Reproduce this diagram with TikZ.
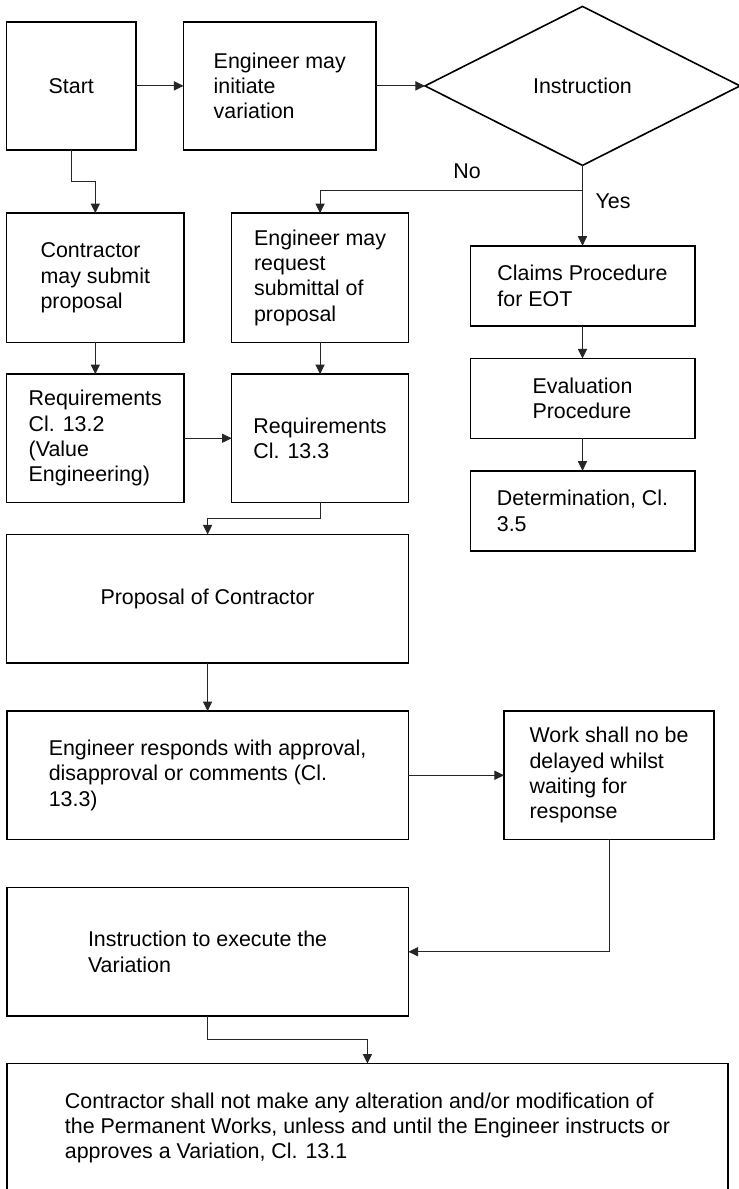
\documentclass[tikz,border=0pt]{standalone}
\usepackage{fontspec}
\setmainfont{Liberation Sans}
\usetikzlibrary{shapes,arrows,positioning,calc, arrows.meta}

\begin{document}
\begin{tikzpicture}[
    font=\fontsize{10.7}{12.65}\selectfont,
    >={Triangle[length=4.8pt,width=4.6pt]},
    stepbox/.style={rectangle, draw, line width=0.8pt, align=left, inner sep=2pt, outer sep=0pt},
    flow/.style={->, line width=0.5pt, draw=black!85}
]

    \useasboundingbox (0,0) rectangle (369.5pt,-594.5pt);

    	%-----Boxes-----
        % Start Box
        \node [stepbox, anchor=north west, minimum width=64.7pt, minimum height=64.2pt] (start) at (3.3pt,-10.85pt) {Start};

        % Engineer Initiates Box
        \node [stepbox, right=23.75pt of start, minimum width=96.25pt, minimum height=64.2pt] (initv) {%
            Engineer may \\
            initiate \\
            variation
        };

        % Instruction Decision
        \node [diamond, draw, line width=0.8pt, right=24.5pt of initv, minimum width=157.5pt, minimum height=79.5pt, inner sep=0pt, outer sep=0pt] (instr) {Instruction};

        % Contractor Submits Box
        \node [stepbox, below=31.5pt of start.south west, anchor=north west, minimum width=88.7pt, minimum height=64.65pt] (csub) {%
            Contractor \\
            may submit \\
            proposal
        };

        % Engineer Requests Box
        \node [stepbox, right=23.8pt of csub, minimum width=88.5pt, minimum height=64.65pt] (ereq) {%
            Engineer may \\
            request \\
            submittal of \\
            proposal
        };

        % Claims Box
        \node [stepbox, below=40.2pt of instr, minimum width=112.2pt, minimum height=40.15pt] (claims) {%
            Claims Procedure \\
            for EOT
        };

        % Evaluation Box
        \node [stepbox, below=16.15pt of claims, minimum width=112.2pt, minimum height=40pt] (evalp) {%
            Evaluation \\
            Procedure
        };

        % Determination Box
        \node [stepbox, below=16.2pt of evalp, minimum width=112.2pt, minimum height=40pt] (determ) {%
            Determination, Cl. \\
            3.5
        };

        % Requirements 13.2 Box
        \node [stepbox, below=15.85pt of csub, minimum width=88.7pt, minimum height=64.15pt] (req2) {%
            Requirements \\
            Cl. 13.2 \\
            (Value \\
            Engineering)
        };

        % Requirements 13.3 Box
        \node [stepbox, right=23.8pt of req2, minimum width=88.5pt, minimum height=64.15pt] (req3) {%
            Requirements \\
            Cl. 13.3
        };

        % Proposal Box
        \node [stepbox, below=16pt of req2.south west, anchor=north west, minimum width=201pt, minimum height=64.2pt] (propc) {Proposal of Contractor};

        % Engineer Responds Box
        \node [stepbox, below=24.15pt of propc, minimum width=200.85pt, minimum height=64.15pt] (eresp) {%
            Engineer responds with approval, \\
            disapproval or comments (Cl. \\
            13.3)
        };

        % No Delay Box
        \node [stepbox, right=47.8pt of eresp, minimum width=105pt, minimum height=64.15pt] (nodelay) {%
            Work shall no be \\
            delayed whilst \\
            waiting for \\
            response
        };

        % Execute Variation Box
        \node [stepbox, below=24pt of eresp, minimum width=200.85pt, minimum height=64.35pt] (execv) {%
            Instruction to execute the \\
            Variation
        };

        % No Alteration Box
        \node [stepbox, below=23.75pt of execv.south west, anchor=north west, minimum width=360.7pt, minimum height=64.3pt] (noalter) {%
            Contractor shall not make any alteration and/or modification of \\
            the Permanent Works, unless and until the Engineer instructs or \\
            approves a Variation, Cl. 13.1
        };

\draw[flow] (start) -- (initv);
\draw[flow] (initv) -- (instr);

\draw[flow] (start.south) -- ++(0,-15.85pt) -| (csub.north);

% Decision branches
\draw[flow] (instr.south) -- ++(0,-12.5pt) -| (ereq.north) node[pos=0.22, above=2.5pt] {No};
\draw[flow] (instr.south) -- (claims.north) node[pos=0.45, right=3pt] {Yes};

\draw[flow] (csub) -- (req2);
\draw[flow] (ereq) -- (req3);
\draw[flow] (claims) -- (evalp);
\draw[flow] (evalp) -- (determ);
\draw[flow] (req2) -- (req3);

\draw[flow] (req3.south) -- ++(0,-7.85pt) -| (propc.north);
\draw[flow] (propc) -- (eresp);
\draw[flow] (eresp) -- (nodelay);

% Back from the waiting box
\draw[flow] (nodelay.south) |- (execv.east);

\draw[flow] (execv.south) -- ++(0,-11.65pt) -| (noalter.north);

    \end{tikzpicture}
\end{document}
